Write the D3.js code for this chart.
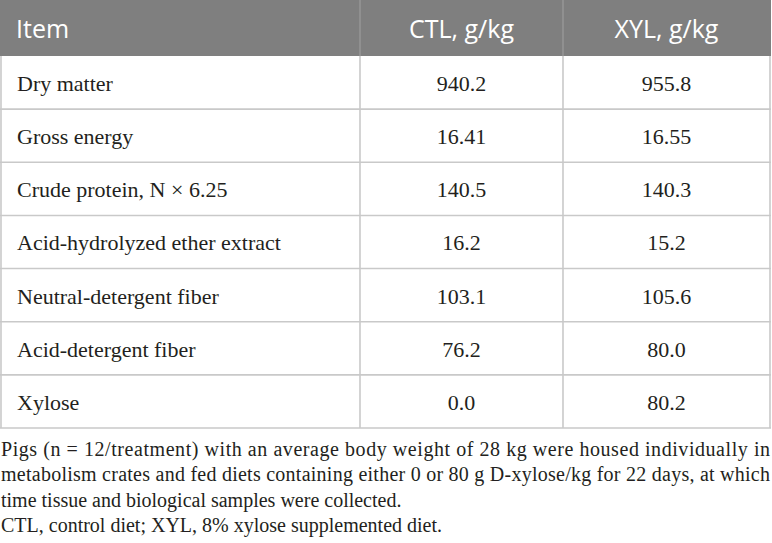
<!DOCTYPE html>
<html><head><meta charset="utf-8">
<script src="https://cdn.jsdelivr.net/npm/d3@7"></script>
<style>html,body{margin:0;padding:0;background:#fff;}svg{display:block;}
.serif{font-family:"Liberation Serif","Tinos","Times New Roman","DejaVu Serif",serif;}
.sans{font-family:"Open Sans","Noto Sans",sans-serif;}
</style>
</head><body>
<script>
const headers = ["Item", "CTL, g/kg", "XYL, g/kg"];
const items = ["Dry matter", "Gross energy", "Crude protein, N \u00d7 6.25", "Acid-hydrolyzed ether extract", "Neutral-detergent fiber", "Acid-detergent fiber", "Xylose"];
const ctl = ["940.2", "16.41", "140.5", "16.2", "103.1", "76.2", "0.0"];
const xyl = ["955.8", "16.55", "140.3", "15.2", "105.6", "80.0", "80.2"];
const footnotes = [
  "Pigs (n = 12/treatment) with an average body weight of 28 kg were housed individually in",
  "metabolism crates and fed diets containing either 0 or 80 g D-xylose/kg for 22 days, at which",
  "time tissue and biological samples were collected.",
  "CTL, control diet; XYL, 8% xylose supplemented diet."
];
const justified = [true, true, false, false];

const W = 772, H = 543;
const svg = d3.select("body").append("svg").attr("width", W).attr("height", H);

const left = 1, right = 770;
const colEdges = [left, 360, 563, right];
const headerH = 56, tableBottom = 428;
const y = d3.scaleBand().domain(d3.range(items.length)).range([headerH, tableBottom]).padding(0);
const lineColor = "#c9c9c9";

// header
svg.append("rect").attr("x", 0).attr("y", 0).attr("width", right + 1).attr("height", headerH).attr("fill", "#7f7f7f");
svg.selectAll(".hdiv").data(colEdges.slice(1, 3)).enter().append("line")
  .attr("x1", d => d).attr("x2", d => d).attr("y1", 0).attr("y2", headerH)
  .attr("stroke", "#969696").attr("stroke-width", 1.5);
svg.selectAll(".htext").data(headers).enter().append("text")
  .attr("class", "sans")
  .attr("x", (d, i) => i === 0 ? 16 : (colEdges[i] + colEdges[i + 1]) / 2)
  .attr("y", 38)
  .attr("text-anchor", (d, i) => i === 0 ? "start" : "middle")
  .attr("font-size", 25)
  .attr("fill", "#ffffff").text(d => d);

// grid lines
const hLines = d3.range(1, items.length).map(i => y(i)).concat([tableBottom]);
svg.selectAll(".hline").data(hLines).enter().append("line")
  .attr("x1", 0).attr("x2", right + 1).attr("y1", d => d).attr("y2", d => d)
  .attr("stroke", lineColor).attr("stroke-width", 1.6);
svg.selectAll(".vline").data(colEdges).enter().append("line")
  .attr("x1", d => d).attr("x2", d => d).attr("y1", headerH).attr("y2", tableBottom)
  .attr("stroke", lineColor).attr("stroke-width", 1.6);

// body
const rows = svg.selectAll(".row").data(items.map((it, i) => [it, ctl[i], xyl[i]])).enter()
  .append("g").attr("transform", (d, i) => `translate(0,${y(i)})`);
rows.selectAll("text").data(d => d).enter().append("text")
  .attr("class", "serif")
  .attr("x", (d, i) => i === 0 ? 17 : (colEdges[i] + colEdges[i + 1]) / 2)
  .attr("y", 35)
  .attr("text-anchor", (d, i) => i === 0 ? "start" : "middle")
  .attr("font-size", 22)
  .attr("fill", "#231f20").text(d => d);

// footnotes
const fn = svg.selectAll(".fn").data(footnotes).enter().append("text")
  .attr("class", "serif")
  .attr("x", 1).attr("y", (d, i) => 456 + i * 25.4)
  .attr("font-size", 20)
  .attr("fill", "#231f20").text(d => d);
fn.filter((d, i) => justified[i]).attr("textLength", 769).attr("lengthAdjust", "spacing");
</script>
</body></html>
